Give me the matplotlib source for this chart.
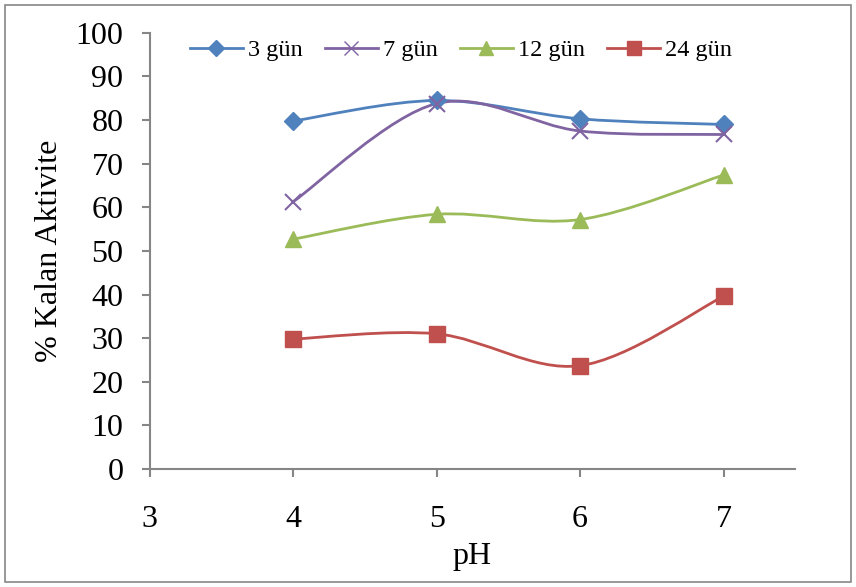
import numpy as np
import matplotlib.pyplot as plt
from matplotlib.path import Path
from matplotlib.patches import PathPatch, Rectangle

plt.rcParams['font.family'] = ['Liberation Serif', 'DejaVu Serif']

ph = [4, 5, 6, 7]
gun3 = [79.8, 84.5, 80.3, 79.0]
gun7 = [61.3, 83.8, 77.5, 76.7]
gun12 = [52.7, 58.4, 57.2, 67.4]
gun24 = [29.8, 31.0, 23.7, 39.6]
labels = ['3 gün', '7 gün', '12 gün', '24 gün']
yticks = [0, 10, 20, 30, 40, 50, 60, 70, 80, 90, 100]
xticks = [3, 4, 5, 6, 7]


def smooth_path(x, y):
    # excel-like smoothing: catmull-rom turned into bezier segments
    x = np.asarray(x, float)
    y = np.asarray(y, float)
    px = np.concatenate([[x[0]], x, [x[-1]]])
    py = np.concatenate([[y[0]], y, [y[-1]]])
    verts = [(x[0], y[0])]
    codes = [Path.MOVETO]
    for i in range(1, len(x)):
        c1 = (px[i] + (px[i + 1] - px[i - 1]) / 6, py[i] + (py[i + 1] - py[i - 1]) / 6)
        c2 = (px[i + 1] - (px[i + 2] - px[i]) / 6, py[i + 1] - (py[i + 2] - py[i]) / 6)
        verts += [c1, c2, (px[i + 1], py[i + 1])]
        codes += [Path.CURVE4] * 3
    return Path(verts, codes)


fig = plt.figure(figsize=(8.56, 5.87), dpi=100)
ax = fig.add_axes([0.175, 0.201, 0.754, 0.743])

series = [gun3, gun7, gun12, gun24]
colors = ['#4F81BD', '#8064A2', '#9BBB59', '#C0504D']
markers = ['D', 'x', '^', 's']
msizes = [9, 11, 11, 11]
for vals, col, mk, ms, lab in zip(series, colors, markers, msizes, labels):
    ax.add_patch(PathPatch(smooth_path(ph, vals), fill=False, edgecolor=col, lw=2))
    ax.plot(ph, vals, linestyle='none', marker=mk, color=col, markersize=ms,
            markeredgewidth=1.5 if mk == 'x' else 1)
    ax.plot([], [], color=col, lw=2, marker=mk, markersize=ms - 1, label=lab)

ax.set_xlim(3, 7.5)
ax.set_ylim(0, 100)
ax.set_xticks(xticks)
ax.set_yticks(yticks)
for s in ['top', 'right']:
    ax.spines[s].set_visible(False)
for s in ['left', 'bottom']:
    ax.spines[s].set_color('#868686')
    ax.spines[s].set_linewidth(1.5)
ax.tick_params(axis='both', colors='#868686', labelcolor='black', labelsize=23, length=6, width=1.5)
ax.tick_params(axis='x', pad=20)
ax.tick_params(axis='y', pad=13)
ax.set_xlabel('pH', fontsize=23, labelpad=6)
ax.set_ylabel('% Kalan Aktivite', fontsize=23, labelpad=8)

ax.legend(loc='upper center', bbox_to_anchor=(0.482, 1.035), ncol=4, frameon=False,
          fontsize=17.5, handlelength=2.2, handletextpad=0.2, columnspacing=0.9)

fig.patches.append(Rectangle((0.006, 0.008), 0.988, 0.984, transform=fig.transFigure,
                             fill=False, edgecolor='#868686', lw=1.2))

fig.savefig('out.png', dpi=100)
